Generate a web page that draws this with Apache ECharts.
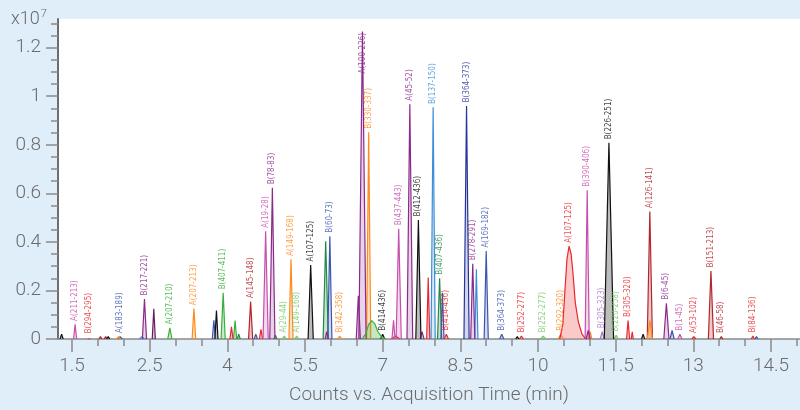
<!DOCTYPE html>
<html>
<head>
<meta charset="utf-8">
<script src="https://cdn.jsdelivr.net/npm/echarts@6/dist/echarts.min.js"></script>
<style>
html,body{margin:0;padding:0;background:#e0eefa;}
#chart{width:800px;height:410px;}
</style>
</head>
<body>
<div id="chart"></div>
<script>
// Each peak: [start time, apex time, end time, apex height (x10^7), label]
const purplePeaks = [
  [2.36, 2.40, 2.44, 0.165, 'B(217-221)'],
  [4.82, 4.87, 4.92, 0.623, 'B(78-83)'],
  [5.89, 5.92, 5.95, 0.03, ''],
  [6.49, 6.53, 6.57, 0.178, ''],
  [6.54, 6.61, 6.68, 1.267, 'A(100-226)'],
  [7.47, 7.525, 7.58, 0.967, 'A(45-52)'],
  [7.72, 7.76, 7.80, 0.03, ''],
  [8.70, 8.74, 8.78, 0.31, 'B(278-291)'],
  [10.93, 10.97, 11.01, 0.035, ''],
  [12.43, 12.48, 12.53, 0.147, 'B(6-45)']
];
const plumPeaks = [
  [2.55, 2.58, 2.61, 0.124, '']
];
const magentaPeaks = [
  [1.03, 1.06, 1.09, 0.06, 'A(211-213)'],
  [4.69, 4.74, 4.79, 0.444, 'A(19-28)'],
  [7.18, 7.21, 7.24, 0.077, ''],
  [7.26, 7.31, 7.36, 0.454, 'B(437-443)'],
  [10.91, 10.95, 10.99, 0.613, 'B(390-406)'],
  [12.70, 12.74, 12.78, 0.02, 'B(1-45)']
];
const lilacPeaks = [
  [11.20, 11.24, 11.28, 0.03, 'B(305-323)']
];
const orangePeaks = [
  [1.86, 1.90, 1.94, 0.01, ''],
  [3.32, 3.355, 3.39, 0.125, 'A(207-213)'],
  [5.19, 5.23, 5.27, 0.328, 'A(149-168)'],
  [6.13, 6.17, 6.21, 0.012, 'B(342-358)'],
  [6.69, 6.73, 6.77, 0.852, 'B(330-337)'],
  [10.39, 10.44, 10.49, 0.02, 'B(292-320)'],
  [10.98, 11.01, 11.04, 0.03, ''],
  [12.11, 12.16, 12.21, 0.076, '']
];
const greenPeaks = [
  [2.85, 2.89, 2.93, 0.046, 'A(207-210)'],
  [3.88, 3.92, 3.96, 0.19, 'B(407-411)'],
  [4.12, 4.15, 4.18, 0.076, '']
];
const greenBroad = [[6.60, 0], [6.67, 0.02], [6.73, 0.06], [6.79, 0.076], [6.85, 0.062], [6.91, 0.03], [6.98, 0.008], [7.06, 0]];
const darkGreenPeaks = [
  [4.19, 4.22, 4.25, 0.02, ''],
  [4.90, 4.93, 4.96, 0.015, ''],
  [5.85, 5.90, 5.95, 0.403, ''],
  [8.06, 8.10, 8.14, 0.25, 'B(407-436)']
];
const lightGreenPeaks = [
  [5.06, 5.10, 5.14, 0.012, 'A(29-44)'],
  [5.30, 5.34, 5.38, 0.012, 'A(149-168)'],
  [10.05, 10.10, 10.15, 0.012, 'B(252-277)'],
  [11.47, 11.51, 11.55, 0.015, 'B(220-258)']
];
const redPeaks = [
  [1.30, 1.33, 1.36, 0.008, 'B(294-295)'],
  [4.05, 4.08, 4.11, 0.05, ''],
  [4.62, 4.65, 4.68, 0.04, ''],
  [7.17, 7.25, 7.33, 0.012, ''],
  [7.85, 7.88, 7.91, 0.253, ''],
  [8.19, 8.23, 8.27, 0.02, 'B(414-436)'],
  [9.64, 9.68, 9.72, 0.012, 'B(252-277)'],
  [11.71, 11.74, 11.77, 0.076, 'B(305-320)'],
  [11.80, 11.82, 11.84, 0.03, ''],
  [12.97, 13.01, 13.05, 0.01, 'A(53-102)'],
  [14.12, 14.15, 14.18, 0.012, 'B(84-136)']
];
const redBroad = [[10.42, 0], [10.48, 0.06], [10.52, 0.2], [10.56, 0.33], [10.60, 0.382], [10.64, 0.35], [10.68, 0.26], [10.72, 0.15], [10.78, 0.07], [10.85, 0.02], [10.92, 0]];
const redBroadLabel = 'A(107-125)';
const darkRedPeaks = [
  [1.52, 1.55, 1.58, 0.01, ''],
  [1.62, 1.65, 1.68, 0.01, ''],
  [4.41, 4.45, 4.49, 0.154, 'A(145-148)'],
  [12.11, 12.16, 12.21, 0.525, 'A(126-141)'],
  [13.29, 13.34, 13.39, 0.28, 'B(151-213)'],
  [13.51, 13.54, 13.57, 0.01, 'B(46-58)']
];
const bluePeaks = [
  [1.89, 1.93, 1.97, 0.01, 'A(183-189)'],
  [3.71, 3.74, 3.77, 0.077, ''],
  [4.52, 4.55, 4.58, 0.02, ''],
  [5.94, 5.98, 6.02, 0.423, 'B(60-73)'],
  [8.125, 8.155, 8.185, 0.19, ''],
  [8.96, 9.00, 9.04, 0.362, 'A(169-182)'],
  [9.26, 9.30, 9.34, 0.02, 'B(364-373)'],
  [12.55, 12.59, 12.63, 0.035, ''],
  [14.19, 14.22, 14.25, 0.01, '']
];
const darkBluePeaks = [
  [8.57, 8.62, 8.67, 0.96, 'B(364-373)']
];
const lightBluePeaks = [
  [2.30, 2.35, 2.40, 0.01, ''],
  [7.935, 7.975, 8.015, 0.954, 'B(137-150)'],
  [8.78, 8.81, 8.84, 0.287, '']
];
const blackPeaks = [
  [0.77, 0.80, 0.83, 0.02, ''],
  [1.67, 1.70, 1.73, 0.01, ''],
  [3.76, 3.79, 3.82, 0.117, ''],
  [5.56, 5.61, 5.66, 0.305, 'A(107-125)'],
  [6.96, 7.00, 7.04, 0.02, 'B(414-436)'],
  [7.64, 7.69, 7.74, 0.49, 'B(412-436)'],
  [9.57, 9.60, 9.63, 0.01, ''],
  [11.28, 11.37, 11.46, 0.808, 'B(226-251)'],
  [12.00, 12.03, 12.06, 0.02, '']
];

const xTickValues = [1, 2.5, 4, 5.5, 7, 8.5, 10, 11.5, 13, 14.5];
const xTickLabels = ['1.5', '2.5', '4', '5.5', '7', '8.5', '10', '11.5', '13', '14.5'];
const xMinorTicks = [1.5, 2, 3, 3.5, 4.5, 5, 6, 6.5, 7.5, 8, 9, 9.5, 10.5, 11, 12, 12.5, 13.5, 14, 15];
const yTickValues = [0, 0.2, 0.4, 0.6, 0.8, 1, 1.2];
const yTickLabels = ['0', '0.2', '0.4', '0.6', '0.8', '1', '1.2'];
const yMinorTicks = [0.05, 0.1, 0.15, 0.25, 0.3, 0.35, 0.45, 0.5, 0.55, 0.65, 0.7, 0.75, 0.85, 0.9, 0.95, 1.05, 1.1, 1.15, 1.25, 1.3];

// styles
const groups = [
  {peaks: lightGreenPeaks, color: '#74c864', fill: '#74c864', op: 0.25},
  {peaks: greenPeaks, color: '#3aae3a', fill: '#3aae3a', op: 0.25},
  {peaks: darkGreenPeaks, color: '#1e8a45', fill: '#1e8a45', op: 0.25},
  {peaks: bluePeaks, color: '#3b55b0', fill: '#3b55b0', op: 0.22},
  {peaks: darkBluePeaks, color: '#26359a', fill: '#26359a', op: 0.2},
  {peaks: lightBluePeaks, color: '#3d8fd8', fill: '#3d8fd8', op: 0.2},
  {peaks: redPeaks, color: '#e8282c', fill: '#e8282c', op: 0.25},
  {peaks: darkRedPeaks, color: '#b3262c', fill: '#b3262c', op: 0.25},
  {peaks: orangePeaks, color: '#ff8a1c', fill: '#ff8a1c', op: 0.25},
  {peaks: lilacPeaks, color: '#b078c8', fill: '#b078c8', op: 0.25},
  {peaks: magentaPeaks, color: '#c64fae', fill: '#c64fae', op: 0.22},
  {peaks: plumPeaks, color: '#6a1d66', fill: '#6a1d66', op: 0.25},
  {peaks: purplePeaks, color: '#8b2a8b', fill: '#8b2a8b', op: 0.2},
  {peaks: blackPeaks, color: '#111111', fill: '#9a9a9a', op: 0.65}
];

const labelBase = {
  show: true, rotate: 90, position: 'top', distance: 3,
  align: 'left', verticalAlign: 'middle',
  fontSize: 8, fontFamily: '"Liberation Sans Narrow","DejaVu Sans Condensed",sans-serif'
};

function peakSeries(data, color, fill, op, z) {
  return {
    type: 'line', data: data, symbol: 'none', smooth: false,
    lineStyle: {color: color, width: 1.2},
    areaStyle: {color: fill, opacity: op},
    silent: true, z: z, clip: true,
    emphasis: {disabled: true}
  };
}

const series = [];
const labelPoints = [];
let z = 2;
groups.forEach(g => g.peaks.forEach(p => {
  series.push(peakSeries([[p[0], 0], [p[1], p[3]], [p[2], 0]], g.color, g.fill, g.op, z++));
  if (p[4]) {
    const lab = Object.assign({}, labelBase, {formatter: p[4], color: g.color});
    if (p[3] > 1.2) { lab.align = 'right'; lab.distance = -2; }
    labelPoints.push({value: [p[1], p[3]], label: lab});
  }
}));

// broad peaks
series.push(peakSeries(greenBroad.map(v => [v[0], v[1]]), '#3aae3a', '#3aae3a', 0.3, z++));
series.push(peakSeries(redBroad.map(v => [v[0], v[1]]), '#e8282c', '#f58a8a', 0.45, z++));
let maxIdx = 0;
redBroad.forEach((v, i) => { if (v[1] > redBroad[maxIdx][1]) maxIdx = i; });
labelPoints.push({value: [redBroad[maxIdx][0], redBroad[maxIdx][1]], label: Object.assign({}, labelBase, {formatter: redBroadLabel, color: '#e8282c'})});

// labels layer
series.push({
  type: 'scatter', data: labelPoints, symbol: 'circle', symbolSize: 1,
  itemStyle: {color: 'rgba(0,0,0,0)'}, silent: true, z: 200, clip: false,
  emphasis: {disabled: true}
});

const axisFont = {fontFamily: 'Roboto, "Noto Sans", sans-serif', fontWeight: 300, fontSize: 19, color: '#6b6b6b'};
function lookup(vals, labels) {
  return function (v) {
    for (let i = 0; i < vals.length; i++) if (Math.abs(vals[i] - v) < 1e-6) return labels[i];
    return '';
  };
}

const chart = echarts.init(document.getElementById('chart'), null, {renderer: 'canvas'});
chart.setOption({
  animation: false,
  backgroundColor: '#e0eefa',
  grid: {left: 58, right: 0, top: 19, bottom: 67, show: true, backgroundColor: '#ffffff', borderWidth: 0},
  xAxis: [
    {
      type: 'value', min: 0.73, max: 15.06,
      axisLine: {show: true, onZero: false, lineStyle: {color: '#8a8a8a', width: 1.5}},
      axisTick: {show: true, customValues: xTickValues, length: 13, lineStyle: {color: '#8a8a8a', width: 1.5}},
      axisLabel: Object.assign({show: true, customValues: xTickValues, formatter: lookup(xTickValues, xTickLabels), margin: 18}, axisFont),
      splitLine: {show: false},
      name: 'Counts vs. Acquisition Time (min)', nameLocation: 'middle', nameGap: 47,
      nameTextStyle: axisFont
    },
    {
      type: 'value', min: 0.73, max: 15.06, position: 'bottom',
      axisLine: {show: false, onZero: false},
      axisTick: {show: true, customValues: xMinorTicks, length: 7, lineStyle: {color: '#8a8a8a', width: 1.5}},
      axisLabel: {show: false},
      splitLine: {show: false}
    }
  ],
  yAxis: [
    {
      type: 'value', min: 0, max: 1.318,
      axisLine: {show: true, lineStyle: {color: '#6e6e6e', width: 2}},
      axisTick: {show: true, customValues: yTickValues, length: 12, lineStyle: {color: '#8a8a8a', width: 1.5}},
      axisLabel: Object.assign({show: true, customValues: yTickValues, formatter: lookup(yTickValues, yTickLabels), margin: 17}, axisFont),
      splitLine: {show: false}
    },
    {
      type: 'value', min: 0, max: 1.318, position: 'left',
      axisLine: {show: false},
      axisTick: {show: true, customValues: yMinorTicks, length: 7, lineStyle: {color: '#8a8a8a', width: 1.5}},
      axisLabel: {show: false},
      splitLine: {show: false}
    }
  ],
  graphic: [{
    type: 'text', left: 11, top: 9,
    style: {
      text: '{a|x10}{b|7}',
      rich: {
        a: {fontFamily: 'Roboto, sans-serif', fontWeight: 300, fontSize: 18, fill: '#6b6b6b'},
        b: {fontFamily: 'Roboto, sans-serif', fontWeight: 300, fontSize: 11, fill: '#6b6b6b', padding: [0, 0, 9, 1]}
      }
    }
  }],
  series: series
});
</script>
</body>
</html>
